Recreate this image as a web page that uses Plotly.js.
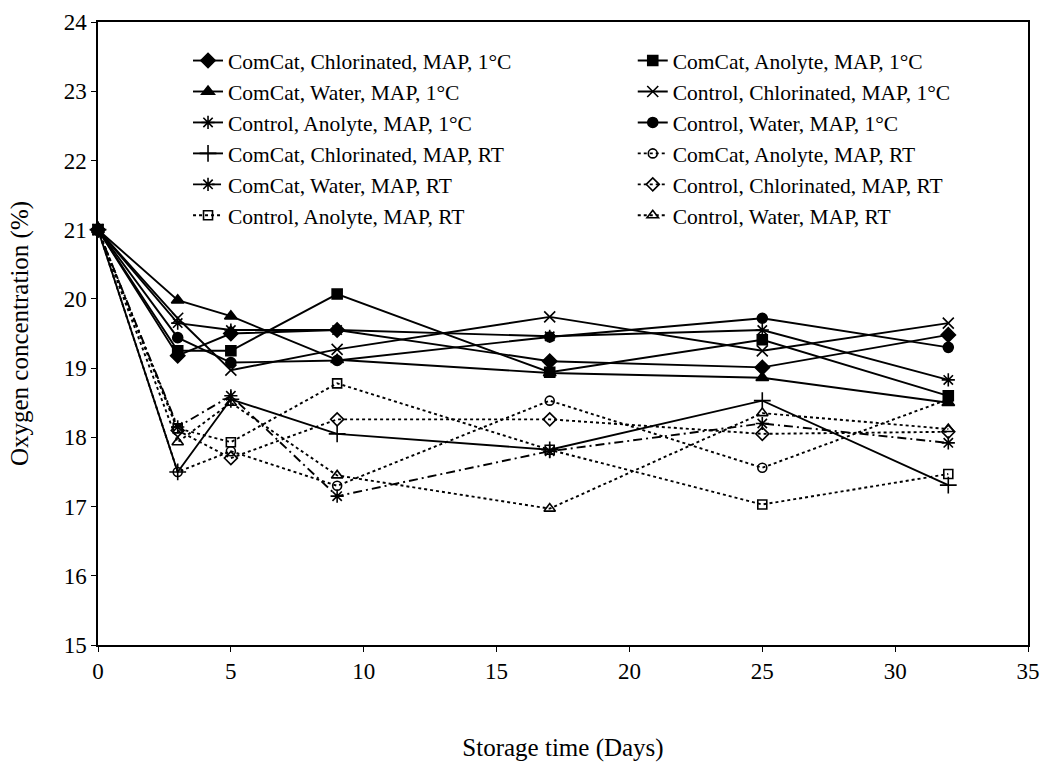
<!DOCTYPE html>
<html>
<head>
<meta charset="utf-8">
<script src="https://cdn.plot.ly/plotly-3.0.1.min.js"></script>
<style>
html,body{margin:0;padding:0;background:#fff;}
#chart{width:1040px;height:780px;}
</style>
</head>
<body>
<div id="chart"></div>
<script>
// Storage days
const days = [0, 3, 5, 9, 17, 25, 32];

// Series names
const seriesNames = [
  "ComCat, Chlorinated, MAP, 1°C",
  "ComCat, Anolyte, MAP, 1°C",
  "ComCat, Water, MAP, 1°C",
  "Control, Chlorinated, MAP, 1°C",
  "Control, Anolyte, MAP, 1°C",
  "Control, Water, MAP, 1°C",
  "ComCat, Chlorinated, MAP, RT",
  "ComCat, Anolyte, MAP, RT",
  "ComCat, Water, MAP, RT",
  "Control, Chlorinated, MAP, RT",
  "Control, Anolyte, MAP, RT",
  "Control, Water, MAP, RT"
];

// Oxygen concentration (%) per series
const comcatChlor1C   = [21, 19.18, 19.50, 19.55, 19.10, 19.01, 19.48];
const comcatAnolyte1C = [21, 19.25, 19.25, 20.07, 18.94, 19.41, 18.60];
const comcatWater1C   = [21, 19.98, 19.75, 19.12, 18.93, 18.86, 18.50];
const controlChlor1C  = [21, 19.72, 18.97, 19.27, 19.74, 19.25, 19.65];
const controlAnolyte1C= [21, 19.65, 19.55, 19.55, 19.46, 19.55, 18.83];
const controlWater1C  = [21, 19.44, 19.08, 19.11, 19.45, 19.72, 19.30];
const comcatChlorRT   = [21, 17.50, 18.55, 18.05, 17.82, 18.53, 17.31];
const comcatAnolyteRT = [21, 17.50, 17.80, 17.30, 18.53, 17.56, 18.55];
const comcatWaterRT   = [21, 18.15, 18.60, 17.15, 17.80, 18.20, 17.92];
const controlChlorRT  = [21, 18.10, 17.70, 18.26, 18.26, 18.05, 18.08];
const controlAnolyteRT= [21, 18.13, 17.93, 18.78, 17.82, 17.03, 17.47];
const controlWaterRT  = [21, 17.93, 18.50, 17.45, 16.97, 18.35, 18.12];

const seriesValues = [comcatChlor1C, comcatAnolyte1C, comcatWater1C, controlChlor1C,
  controlAnolyte1C, controlWater1C, comcatChlorRT, comcatAnolyteRT, comcatWaterRT,
  controlChlorRT, controlAnolyteRT, controlWaterRT];

// Styles
const styles = [
  {sym: "diamond", dash: "solid", size: 11},
  {sym: "square", dash: "solid", size: 10},
  {sym: "triangle-up", dash: "solid", size: 11},
  {sym: "x-thin-open", dash: "solid", size: 11},
  {sym: "asterisk-open", dash: "solid", size: 11},
  {sym: "circle", dash: "solid", size: 10},
  {sym: "cross-thin-open", dash: "solid", size: 12},
  {sym: "circle-open", dash: "dot", size: 9},
  {sym: "asterisk-open", dash: "9px,4px,2px,4px", size: 11},
  {sym: "diamond-open", dash: "dot", size: 10},
  {sym: "square-open", dash: "dot", size: 9},
  {sym: "triangle-up-open", dash: "dot", size: 10}
];

const traces = seriesValues.map((vals, i) => ({
  x: days,
  y: vals,
  name: seriesNames[i],
  type: "scatter",
  mode: "lines+markers",
  cliponaxis: false,
  legend: (i % 2 === 0) ? "legend" : "legend2",
  line: {color: "#000", width: 1.9, dash: styles[i].dash},
  marker: {symbol: styles[i].sym, size: styles[i].size, color: "#000",
           line: {color: "#000", width: 1.6}}
}));

const font = {family: "Liberation Serif, Times New Roman, serif", color: "#000"};

const layout = {
  width: 1040, height: 780,
  paper_bgcolor: "#fff", plot_bgcolor: "#fff",
  margin: {l: 98, r: 12, t: 22, b: 135},
  font: Object.assign({size: 22}, font),
  showlegend: true,
  xaxis: {
    range: [0, 35], dtick: 5, tick0: 0,
    showgrid: false, zeroline: false,
    showline: true, linecolor: "#000", linewidth: 1.5, mirror: true,
    ticks: "outside", ticklen: 5, tickcolor: "#000",
    ticklabeloverflow: "allow",
    tickfont: Object.assign({size: 23}, font),
    title: {text: "Storage time (Days)", font: Object.assign({size: 25}, font), standoff: 55}
  },
  yaxis: {
    range: [15, 24], dtick: 1, tick0: 15,
    showgrid: false, zeroline: false,
    showline: true, linecolor: "#000", linewidth: 1.5, mirror: true,
    ticks: "outside", ticklen: 5, tickcolor: "#000",
    tickfont: Object.assign({size: 23}, font),
    title: {text: "Oxygen concentration (%)", font: Object.assign({size: 25}, font), standoff: 28}
  },
  legend: {
    x: 0.0968, y: 0.971, xanchor: "left", yanchor: "top",
    bgcolor: "rgba(0,0,0,0)", borderwidth: 0,
    font: Object.assign({size: 21.5}, font),
    tracegroupgap: 0
  },
  legend2: {
    x: 0.575, y: 0.971, xanchor: "left", yanchor: "top",
    bgcolor: "rgba(0,0,0,0)", borderwidth: 0,
    font: Object.assign({size: 21.5}, font),
    tracegroupgap: 0
  }
};

Plotly.newPlot("chart", traces, layout, {displayModeBar: false, responsive: false});
</script>
</body>
</html>
